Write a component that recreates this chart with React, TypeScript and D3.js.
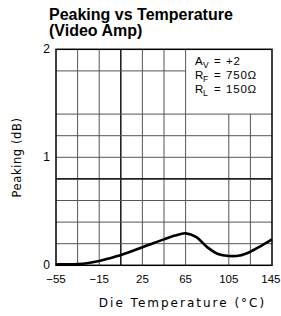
import * as d3 from "d3"

// Die temperature (°C) vs peaking (dB)
const temps = [-55, -45, -35, -25, -15, -5, 5, 15, 25, 35, 45, 55, 65, 75, 85, 95, 105, 115, 125, 135, 145]
const peaking = [0.01, 0.01, 0.012, 0.022, 0.04, 0.066, 0.095, 0.13, 0.167, 0.205, 0.24, 0.275, 0.296, 0.26, 0.168, 0.105, 0.086, 0.09, 0.126, 0.18, 0.24]

const xTicks = [-55, -15, 25, 65, 105, 145]
const yTicks = [0, 1, 2]
// grid lines as drawn in the original (a few are absent)
const xGrid = [-35, -15, 5, 25, 45, 65, 105, 125]
const yGrid = [0.2, 0.4, 0.6, 0.8, 1.0, 1.2, 1.4, 1.8]
const boldX = [5]
const boldY = [0.8]

const legendRows = [
  { main: "A", sub: "V", value: "+2" },
  { main: "R", sub: "F", value: "750Ω" },
  { main: "R", sub: "L", value: "150Ω" },
]

export default function App() {
  const width = 281
  const height = 316
  const left = 56, right = 272, top = 49.3, bottom = 265.3

  const x = d3.scaleLinear().domain([-55, 145]).range([left, right])
  const y = d3.scaleLinear().domain([0, 2]).range([bottom, top])

  // legend box covers 65..145 °C, 1.4..2 dB
  const boxX0 = x(65), boxY1 = y(1.4)

  const line = d3.line<number>()
    .x((_, i) => x(temps[i]))
    .y((d) => y(d))
    .curve(d3.curveCatmullRom.alpha(0.5))

  const tickFont = "'Liberation Sans', Arial, sans-serif"
  const labelFont = "'DejaVu Sans', Verdana, sans-serif"
  const lastTick = xTicks[xTicks.length - 1]

  return (
    <svg width={width} height={height} style={{ position: "absolute", left: 0, top: 0, background: "#fff" }}>
      <text x={49} y={19.5} fontFamily={tickFont} fontWeight="bold" fontSize={16} fill="#000">
        Peaking vs Temperature
      </text>
      <text x={49} y={36} fontFamily={tickFont} fontWeight="bold" fontSize={16} fill="#000">
        (Video Amp)
      </text>

      {/* grid */}
      {xGrid.map((t) => {
        const inBox = t > 65
        return (
          <line
            key={"gx" + t}
            x1={x(t)} x2={x(t)}
            y1={inBox ? boxY1 : top} y2={bottom}
            stroke={boldX.includes(t) ? "#222" : "#555"}
            strokeWidth={boldX.includes(t) ? 1.6 : 1}
          />
        )
      })}
      {yGrid.map((v) => {
        const inBox = v > 1.4
        return (
          <line
            key={"gy" + v}
            x1={left} x2={inBox ? boxX0 : right}
            y1={y(v)} y2={y(v)}
            stroke={boldY.includes(v) ? "#222" : "#555"}
            strokeWidth={boldY.includes(v) ? 1.6 : 1}
          />
        )
      })}

      {/* frame */}
      <rect x={left} y={top} width={right - left} height={bottom - top} fill="none" stroke="#000" strokeWidth={1.5} />

      {/* curve */}
      <path d={line(peaking) || ""} fill="none" stroke="#000" strokeWidth={2.6} strokeLinejoin="round" />

      {/* legend */}
      {legendRows.map((r, i) => {
        const by = 65 + i * 14
        return (
          <g key={r.main + r.sub} fontFamily={tickFont} fontSize={11.5} fill="#000">
            <text x={195} y={by}>{r.main}</text>
            <text x={203} y={by + 3} fontSize={8.5}>{r.sub}</text>
            <text x={214} y={by}>=</text>
            <text x={226} y={by} letterSpacing={0.8}>{r.value}</text>
          </g>
        )
      })}

      {/* y ticks */}
      {yTicks.map((v) => (
        <text key={"yt" + v} x={50} y={y(v) + 4} textAnchor="end" fontFamily={tickFont} fontSize={12} fill="#000">
          {v}
        </text>
      ))}
      {/* x ticks */}
      {xTicks.map((t) => (
        <text
          key={"xt" + t}
          x={t === lastTick ? width - 0.5 : x(t)}
          y={283}
          textAnchor={t === lastTick ? "end" : "middle"}
          fontFamily={tickFont}
          fontSize={11.5}
          fill="#000"
        >
          {t < 0 ? "−" + Math.abs(t) : t}
        </text>
      ))}

      <text x={182.5} y={307} textAnchor="middle" fontFamily={labelFont} fontSize={12} letterSpacing={2} fill="#000">
        Die Temperature (°C)
      </text>
      <text
        transform={`translate(21, 157.5) rotate(-90)`}
        textAnchor="middle"
        fontFamily={labelFont}
        fontSize={11.5}
        letterSpacing={0.6}
        fill="#000"
      >
        Peaking (dB)
      </text>
    </svg>
  )
}
